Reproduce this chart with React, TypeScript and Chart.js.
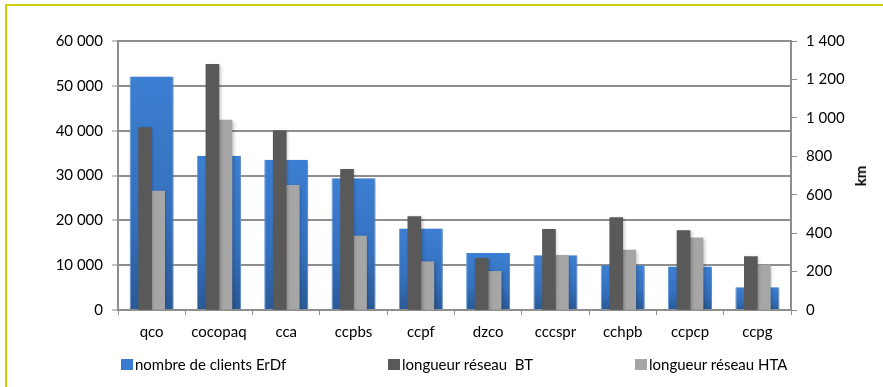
import React, { useEffect, useRef } from 'react';
import { Chart, registerables } from 'chart.js';

Chart.register(...registerables);

const categories = ['qco', 'cocopaq', 'cca', 'ccpbs', 'ccpf', 'dzco', 'cccspr', 'cchpb', 'ccpcp', 'ccpg'];
const clientsErdf = [52100, 34400, 33500, 29400, 18200, 12700, 12200, 10000, 9700, 5100];
const reseauBT = [949, 1279, 933, 732, 486, 269, 420, 481, 413, 278];
const reseauHTA = [619, 989, 649, 385, 251, 201, 285, 312, 375, 234];
const seriesLabels = ['nombre de clients ErDf', 'longueur réseau  BT', 'longueur réseau HTA'];
const leftAxis = { min: 0, max: 60000, step: 10000 };
const rightAxis = { min: 0, max: 1400, step: 200, title: 'km' };

const BLUE = '#3a7bcf';
const DARK = '#595959';
const LIGHT = '#a6a6a6';
const GRID = '#8e8e8e';
const FONT_FAMILY = 'Lato, "Open Sans", sans-serif';

const fmt = (v: number | string) =>
  String(Math.round(Number(v))).replace(/\B(?=(\d{3})+(?!\d))/g, ' ');

const barShadow = {
  id: 'barShadow',
  beforeDatasetDraw(chart: any) {
    const c = chart.ctx;
    c.save();
    c.shadowColor = 'rgba(0,0,0,0.22)';
    c.shadowBlur = 3;
    c.shadowOffsetX = 1.5;
    c.shadowOffsetY = 1;
  },
  afterDatasetDraw(chart: any) {
    chart.ctx.restore();
  },
};

export default function App() {
  const ref = useRef<HTMLCanvasElement>(null);

  useEffect(() => {
    const canvas = ref.current;
    if (!canvas) return;
    const font = { family: FONT_FAMILY, size: 15 };

    const blueFill = (ctx: any) => {
      const chart = ctx.chart;
      const sc = chart.scales && chart.scales.y;
      if (!sc || ctx.type !== 'data') return BLUE;
      const v = ctx.raw as number;
      const top = sc.getPixelForValue(v);
      const bottom = sc.getPixelForValue(0);
      if (!isFinite(top) || !isFinite(bottom) || bottom - top < 1) return BLUE;
      const g = chart.ctx.createLinearGradient(0, top, 0, bottom);
      g.addColorStop(0, '#3c7fd2');
      g.addColorStop(0.6, '#3570bd');
      g.addColorStop(1, '#2a5996');
      return g;
    };

    const chart = new Chart(canvas, {
      type: 'bar',
      data: {
        labels: categories,
        datasets: [
          {
            label: seriesLabels[0],
            data: clientsErdf,
            yAxisID: 'y',
            grouped: false,
            order: 3,
            categoryPercentage: 1,
            barPercentage: 0.655,
            backgroundColor: blueFill,
            borderColor: '#6c9fdd',
            borderWidth: { left: 1, right: 1, top: 0, bottom: 0 },
          } as any,
          {
            label: seriesLabels[1],
            data: reseauBT,
            yAxisID: 'y1',
            order: 1,
            barThickness: 13,
            backgroundColor: DARK,
          },
          {
            label: seriesLabels[2],
            data: reseauHTA,
            yAxisID: 'y1',
            order: 2,
            barThickness: 13,
            backgroundColor: LIGHT,
          },
        ],
      },
      plugins: [barShadow],
      options: {
        responsive: false,
        animation: false,
        layout: { padding: { top: 41, left: 0, right: 0, bottom: 0 } },
        plugins: {
          legend: { display: false },
          tooltip: { enabled: false },
        },
        scales: {
          x: {
            offset: true,
            grid: { offset: true, drawOnChartArea: false, tickLength: 5, color: GRID, lineWidth: 1 },
            border: { color: GRID, width: 2 },
            ticks: { font, color: '#000', padding: 8, maxRotation: 0, autoSkip: false },
            afterFit: (s: any) => { s.height = 77; },
          },
          y: {
            position: 'left',
            min: leftAxis.min,
            max: leftAxis.max,
            ticks: { stepSize: leftAxis.step, callback: (v: any) => fmt(v), font, color: '#000', padding: 9 },
            grid: { color: GRID, lineWidth: 2, tickLength: 6, tickWidth: 1 },
            border: { color: GRID, width: 2 },
            afterFit: (s: any) => { s.width = 118; },
          },
          y1: {
            position: 'right',
            min: rightAxis.min,
            max: rightAxis.max,
            ticks: { stepSize: rightAxis.step, callback: (v: any) => fmt(v), font, color: '#000', padding: 9 },
            grid: { drawOnChartArea: false, color: GRID, tickLength: 6, lineWidth: 1 },
            border: { color: GRID, width: 2 },
            afterFit: (s: any) => { s.width = 92; },
          },
        },
      } as any,
    });
    return () => chart.destroy();
  }, []);

  const legendItems = [
    { label: seriesLabels[0], color: '#3a7bcf', left: 121 },
    { label: seriesLabels[1], color: DARK, left: 388 },
    { label: seriesLabels[2], color: LIGHT, left: 635 },
  ];

  return (
    <div style={{ position: 'fixed', left: 0, top: 0, width: 883, height: 387, background: '#fff', overflow: 'hidden' }}>
      <div style={{ position: 'absolute', left: 5, top: 4, width: 1000, height: 1000, borderTop: '2px solid #cbd300', borderLeft: '2px solid #cbd300' }} />
      <canvas ref={ref} width={883} height={387} style={{ position: 'absolute', left: 0, top: 0, width: 883, height: 387 }} />
      <div
        style={{
          position: 'absolute', left: 860, top: 176, transform: 'translate(-50%, -50%) rotate(-90deg)',
          fontFamily: FONT_FAMILY, fontWeight: 'bold', fontSize: 15, color: '#000', whiteSpace: 'pre',
        }}
      >
        {rightAxis.title}
      </div>
      {legendItems.map((it) => (
        <div key={it.label} style={{ position: 'absolute', left: it.left, top: 355, height: 18, display: 'flex', alignItems: 'center', fontFamily: FONT_FAMILY, fontSize: 15, color: '#000', whiteSpace: 'pre' }}>
          <span style={{ display: 'inline-block', width: 12, height: 11, background: it.color, marginRight: 2 }} />
          <span>{it.label}</span>
        </div>
      ))}
    </div>
  );
}
